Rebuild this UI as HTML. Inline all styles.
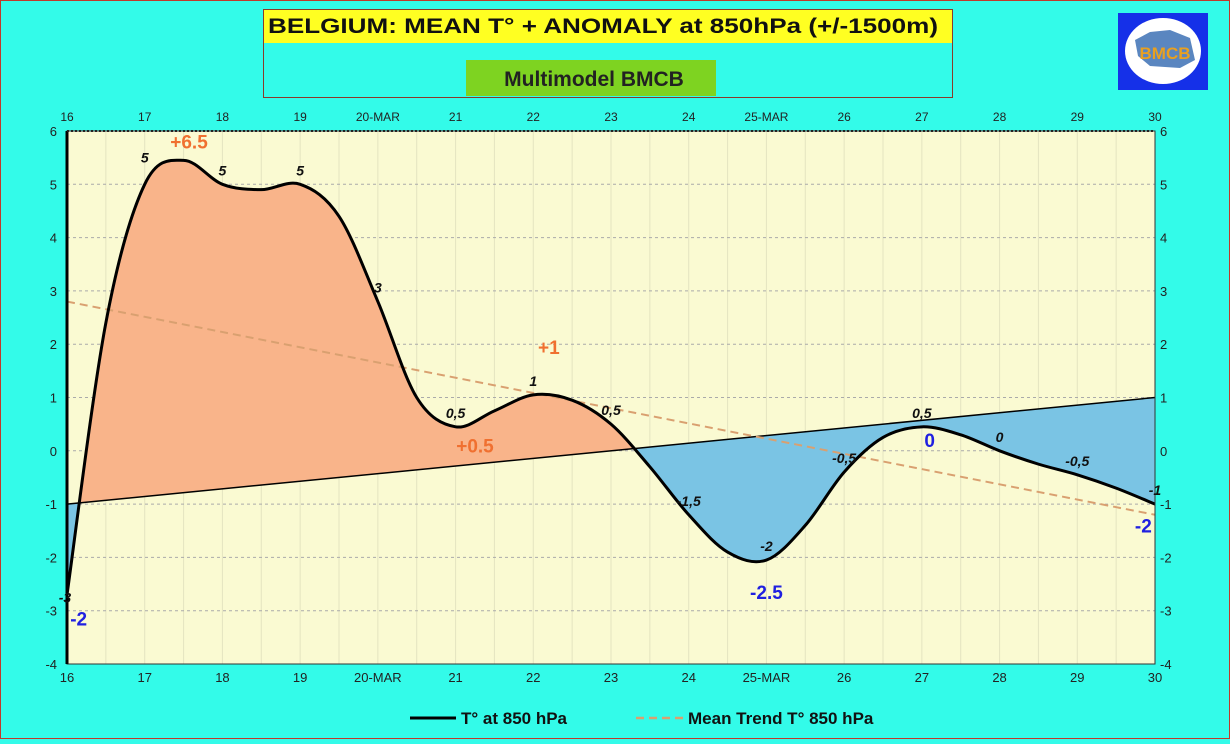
<!DOCTYPE html>
<html><head><meta charset="utf-8"><style>
body{margin:0;width:1230px;height:739px;overflow:hidden;background:#33fbe9;font-family:"Liberation Sans",sans-serif}
</style></head><body>
<svg width="1230" height="739" viewBox="0 0 1230 739" xmlns="http://www.w3.org/2000/svg" font-family="Liberation Sans, sans-serif">
<rect x="0.5" y="0.5" width="1229" height="738" fill="#33fbe9" stroke="#c0392b"/>
<g>
<rect x="263.5" y="9.5" width="689" height="88" fill="#33fbe9" stroke="#8b3a2a"/>
<rect x="264" y="10" width="688" height="33" fill="#ffff22"/>
<text x="268" y="33" font-size="21" font-weight="bold" fill="#111" textLength="670" lengthAdjust="spacingAndGlyphs">BELGIUM:  MEAN T° + ANOMALY at 850hPa (+/-1500m)</text>
<rect x="466" y="60" width="250" height="36" fill="#7ed321"/>
<text x="594" y="86" text-anchor="middle" font-size="21" font-weight="bold" fill="#222">Multimodel BMCB</text>
</g>
<g>
<rect x="1118" y="13" width="90" height="77" fill="#1530e8"/>
<ellipse cx="1163" cy="51" rx="38" ry="33" fill="#fff"/>
<path d="M1135 40 L1150 32 L1170 30 L1190 38 L1195 60 L1180 68 L1150 66 L1138 56Z" fill="#5a86c0"/>
<text x="1165" y="59" text-anchor="middle" font-size="17" font-weight="bold" fill="#e8a020">BMCB</text>
</g>
<g id="plot"></g>
<g>
<line x1="410" y1="718" x2="456" y2="718" stroke="#000" stroke-width="3"/>
<text x="461" y="724" font-size="17" font-weight="bold" fill="#111">T° at 850 hPa</text>
<line x1="636" y1="718" x2="684" y2="718" stroke="#d9a070" stroke-width="2.5" stroke-dasharray="8,5"/>
<text x="688" y="724" font-size="17" font-weight="bold" fill="#111">Mean Trend T° 850 hPa</text>
</g>
</svg>
<script>
const days=[16,16.5,17,17.5,18,18.5,19,19.5,20,20.5,21,21.5,22,22.5,23,23.5,24,24.5,25,25.5,26,26.5,27,27.5,28,28.5,29,29.5,30];
const temps=[-2.7,2.4,5.0,5.45,5.0,4.9,5.0,4.4,2.8,1.0,0.45,0.75,1.05,0.95,0.5,-0.3,-1.2,-1.9,-2.05,-1.4,-0.4,0.25,0.45,0.3,0,-0.25,-0.45,-0.7,-1.0];
const tickDays=[16,17,18,19,20,21,22,23,24,25,26,27,28,29,30];
const tickLabels=["16","17","18","19","20-MAR","21","22","23","24","25-MAR","26","27","28","29","30"];
const yTicks=[6,5,4,3,2,1,0,-1,-2,-3,-4];
const refLine=[-1,1];
const trendLine=[2.8,-1.2];
const pointLabels=["-3","5","5","5","3","0,5","1","0,5","-1,5","-2","-0,5","0,5","0","-0,5","-1"];
const annotations=[[17.57,5.8,"+6.5","#f07030"],[22.2,1.95,"+1","#f07030"],[21.25,0.1,"+0.5","#f07030"],[16.15,-3.15,"-2","#2020e0"],[25,-2.65,"-2.5","#2020e0"],[27.1,0.2,"0","#2020e0"],[29.85,-1.4,"-2","#2020e0"]];
const X0=67,X1=1155,Y0=131,Y1=664;
const x=d=>X0+(d-16)/14*(X1-X0);
const y=v=>Y0+(6-v)/10*(Y1-Y0);
const NS="http://www.w3.org/2000/svg";
const g=document.getElementById('plot');
function el(t,a,p){const e=document.createElementNS(NS,t);for(const k in a)e.setAttribute(k,a[k]);(p||g).appendChild(e);return e;}
const bg=el('rect',{x:X0,y:Y0,width:X1-X0,height:Y1-Y0,fill:'#fafad2'});


for(let d=16.5;d<30;d+=0.5){const l=el('line',{x1:x(d),x2:x(d),y1:Y0,y2:Y1,stroke:'#e4e4c0','stroke-width':1});}
yTicks.forEach(v=>{
 if(v<6&&v>-4){const l=el('line',{x1:X0,x2:X1,y1:y(v),y2:y(v),stroke:'#aaa','stroke-dasharray':'3,3'});}
 const t=el('text',{x:57,y:y(v)+5,'text-anchor':'end','font-size':13,fill:'#222'});t.textContent=v;
 
 const t2=el('text',{x:1160,y:y(v)+5,'font-size':13,fill:'#222'});t2.textContent=v;
 
});
tickDays.forEach((d,i)=>{
 const t=el('text',{x:x(d),y:121,'text-anchor':'middle','font-size':12,fill:'#222'});t.textContent=tickLabels[i];
 
 const b=el('text',{x:x(d),y:682,'text-anchor':'middle','font-size':13,fill:'#222'});b.textContent=tickLabels[i];
 
});
const pts=days.map((d,i)=>[x(d),y(temps[i])]);
let path=`M${pts[0][0]},${pts[0][1]}`;
for(let i=0;i<pts.length-1;i++){const p0=pts[Math.max(0,i-1)],p1=pts[i],p2=pts[i+1],p3=pts[Math.min(pts.length-1,i+2)];
 path+=` C${p1[0]+(p2[0]-p0[0])/6},${p1[1]+(p2[1]-p0[1])/6} ${p2[0]-(p3[0]-p1[0])/6},${p2[1]-(p3[1]-p1[1])/6} ${p2[0]},${p2[1]}`;}
const ra=[x(16),y(refLine[0])],rb=[x(30),y(refLine[1])];
const defs=el('defs',{});
const c1=el('clipPath',{id:'above'},defs);el('polygon',{points:`${ra[0]},${Y0-50} ${rb[0]},${Y0-50} ${rb[0]},${rb[1]} ${ra[0]},${ra[1]}`},c1);
const c2=el('clipPath',{id:'below'},defs);el('polygon',{points:`${ra[0]},${Y1+50} ${rb[0]},${Y1+50} ${rb[0]},${rb[1]} ${ra[0]},${ra[1]}`},c2);
const area=path+` L${rb[0]},${rb[1]} L${ra[0]},${ra[1]} Z`;
const fo=el('path',{d:area,fill:'#f9b48a','clip-path':'url(#above)'});
const fb=el('path',{d:area,fill:'#7ac4e4','clip-path':'url(#below)'});
const rl=el('line',{x1:ra[0],y1:ra[1],x2:rb[0],y2:rb[1],stroke:'#000','stroke-width':1.5});
const tl=el('line',{x1:x(16),y1:y(trendLine[0]),x2:x(30),y2:y(trendLine[1]),stroke:'#d9a070','stroke-width':2,'stroke-dasharray':'8,5'});
const ln=el('path',{d:path,fill:'none',stroke:'#000','stroke-width':3});
const fr=el('rect',{x:X0,y:Y0,width:X1-X0,height:Y1-Y0,fill:'none',stroke:'#333','stroke-width':1});
el('line',{x1:X0,y1:Y0,x2:X0,y2:Y1,stroke:'#000','stroke-width':3});
el('line',{x1:X0,y1:Y0,x2:X1,y2:Y0,stroke:'#222','stroke-width':2,'stroke-dasharray':'2,2'});
tickDays.forEach((d,i)=>{const v=temps[days.indexOf(d)];
 const t=el('text',{x:x(d)+(i==0?-2:0),y:y(v)-(i==0?-8:(i==1?22:9)),'text-anchor':'middle','font-size':14,'font-weight':'bold','font-style':'italic',fill:'#111'});t.textContent=pointLabels[i];
 });
annotations.forEach(a=>{const t=el('text',{x:x(a[0]),y:y(a[1])+7,'text-anchor':'middle','font-size':19,'font-weight':'bold',fill:a[3]});t.textContent=a[2];
 });
</script>
</body></html>
